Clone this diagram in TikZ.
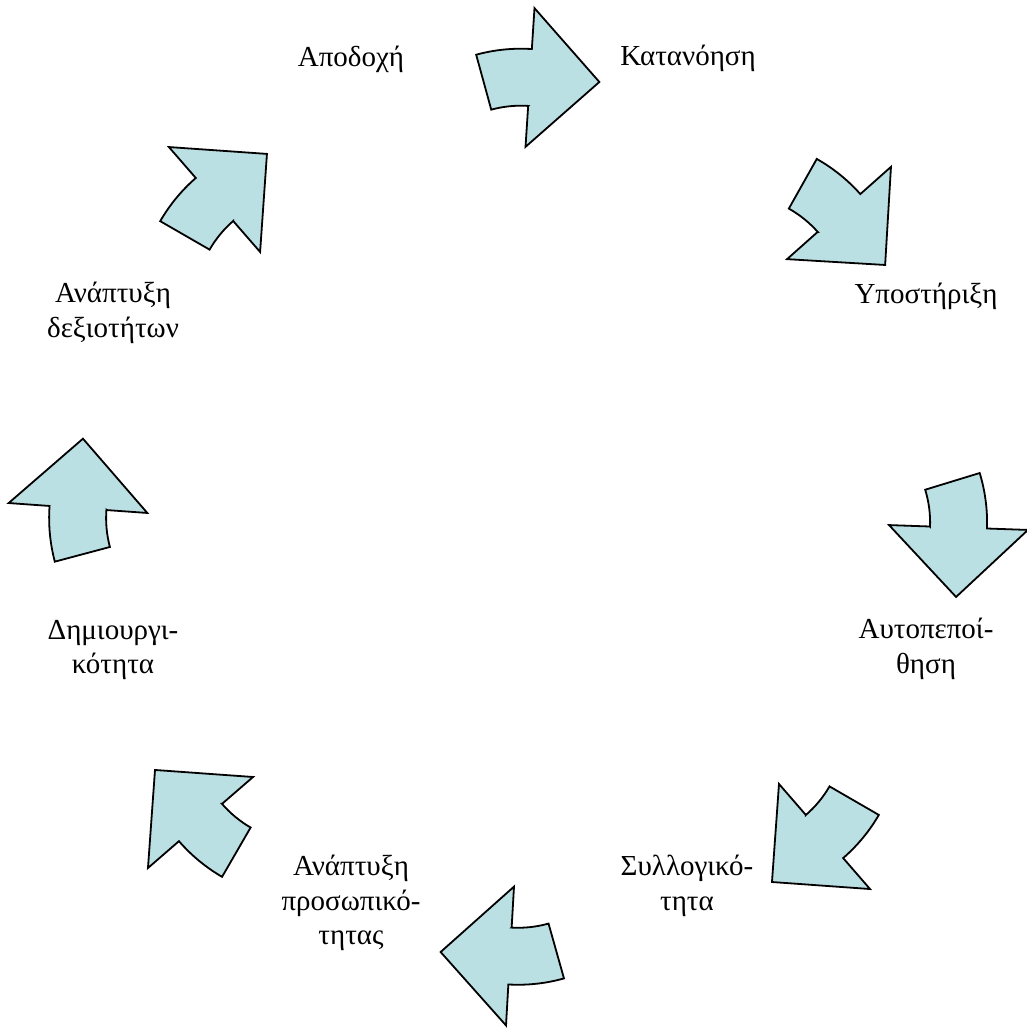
\documentclass[tikz,border=0pt]{standalone}
\usepackage{fontspec}
\setmainfont{Liberation Serif}
\usepackage{tikz}
\definecolor{arrowfill}{RGB}{187,224,227}

\begin{document}
\begin{tikzpicture}[x=1pt,y=1pt,
        ringtext/.style={font=\fontsize{29}{34.5}\selectfont, align=center, inner sep=0pt},
        blockarrow/.style={draw=black, fill=arrowfill, line width=1.8pt, line join=miter},
        ringarrow/.pic={
          \path[blockarrow] (0,-28.5) -- (0,-69.5) -- (69.5,0) -- (0,69.5) -- (0,28.5)
            arc[start angle=90, end angle=109, radius=169.5pt] -- (-36.6,-34.6)
            arc[start angle=109, end angle=90, radius=112.5pt] -- cycle;
        }]
    \useasboundingbox (0,0) rectangle (1026,-1028);

      \node[ringtext] (apodoxi)         at (351,-59)  {Αποδοχή};
      \node[ringtext] (katanoisi)       at (688,-58)  {Κατανόηση};
      \node[ringtext] (ypostirixi)      at (926,-296) {Υποστήριξη};
      \node[ringtext] (autopepoithisi)  at (926,-649) {Αυτοπεποί-\\θηση};
      \node[ringtext] (syllogikotita)   at (687,-886) {Συλλογικό-\\τητα};
      \node[ringtext] (anaptyxi_pros)   at (351,-903) {Ανάπτυξη\\προσωπικό-\\τητας};
      \node[ringtext] (dimiourgikotita) at (113,-650) {Δημιουργι-\\κότητα};
      \node[ringtext] (anaptyxi_dex)    at (113,-313) {Ανάπτυξη\\δεξιοτήτων};

      \pic[rotate=-3.7]   at (530,-77.5)    {ringarrow};
      \pic[rotate=-48.4]  at (839,-213)     {ringarrow};
      \pic[rotate=-92]    at (958.5,-527.5) {ringarrow};
      \pic[rotate=-139.1] at (824.5,-836.5) {ringarrow};
      \pic[rotate=176.7]  at (510,-956)     {ringarrow};
      \pic[rotate=130.9]  at (200.5,-822.5) {ringarrow};
      \pic[rotate=85.9]   at (78,-508)      {ringarrow};
      \pic[rotate=41]     at (214.5,-199.5) {ringarrow};
\end{tikzpicture}
\end{document}
